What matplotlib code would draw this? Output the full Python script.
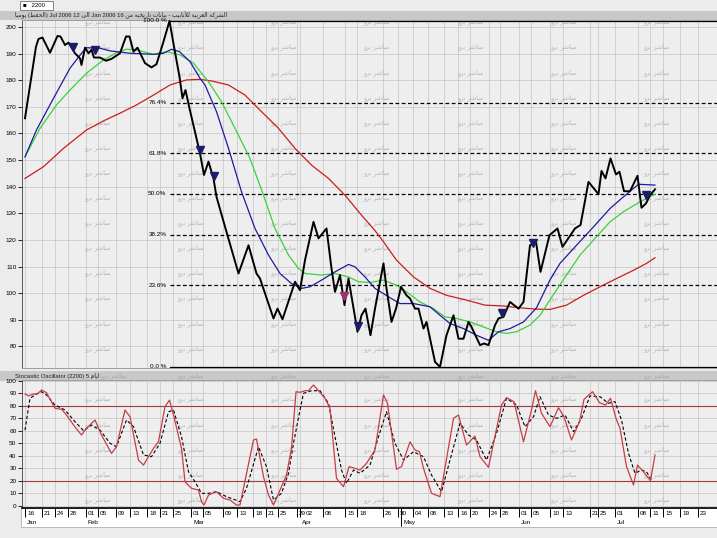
import numpy as np
import matplotlib
matplotlib.use("Agg")
import matplotlib.pyplot as plt
import matplotlib.transforms as mtransforms
from matplotlib.patches import Rectangle

plt.rcParams['font.family'] = ['Liberation Sans', 'DejaVu Sans']

# ---- price (trading-session index, close) ----
price_x = [0, 2.2, 2.7, 3.5, 5.0, 6.5, 7.1, 8.0, 8.7, 10.0, 11.0, 11.3, 12.0, 12.7, 13.3, 13.8, 15.0, 16.2, 17.3, 19.0,
           20.2, 20.9, 21.7, 22.5, 24.0, 25.3, 26.3, 27.7, 28.9, 29.8, 30.9, 31.5, 32.1, 32.9, 35.0, 35.8, 36.7, 37.7, 38.3, 40.3,
           42.7, 44.7, 46.3, 47.0, 49.7, 50.5, 51.5, 54.0, 55.0, 56.0, 57.7, 58.7, 60.3, 61.3, 62.0, 63.0, 63.9, 64.7, 66.5, 67.3,
           68.1, 69.1, 70.0, 71.7, 72.3, 73.3, 74.2, 75.2, 76.3, 77.0, 78.0, 78.7, 79.7, 80.3, 82.0, 83.0, 84.3, 85.7, 86.7, 87.7,
           88.7, 89.3, 91.0, 91.8, 92.7, 94.0, 94.7, 95.7, 97.0, 98.7, 99.7, 101.0, 102.2, 103.1, 104.9, 106.5, 107.5, 110.0, 111.1, 112.7,
           114.7, 115.3, 116.1, 117.1, 118.2, 118.9, 119.8, 121.0, 122.5, 123.3, 124.2, 125.0, 126.0]
price_y = [165.7, 192.6, 195.5, 196.0, 190.3, 196.6, 196.4, 193.2, 194.1, 190.1, 188.2, 185.7, 192.2, 190.1, 191.4, 188.5, 188.5, 187.3, 188.0, 190.1,
           196.4, 196.4, 190.7, 192.2, 186.4, 184.8, 186.0, 194.5, 202.25, 192.6, 181.3, 173.2, 176.3, 169.4, 152.5, 144.4, 149.4, 143.1, 136.2, 123.0,
           107.4, 118.0, 107.4, 105.5, 90.5, 94.2, 90.2, 104.3, 101.1, 112.4, 126.8, 120.6, 124.3, 109.3, 100.5, 106.8, 95.5, 105.5, 85.5, 91.7,
           94.2, 84.2, 94.2, 111.2, 101.8, 89.2, 94.2, 102.4, 99.2, 98.0, 94.2, 94.2, 86.7, 89.2, 74.2, 72.3, 84.2, 91.7, 82.9, 82.9,
           89.2, 87.3, 80.5, 81.1, 80.5, 88.0, 90.5, 91.1, 96.7, 94.2, 96.7, 118.0, 119.3, 108.0, 121.8, 124.3, 117.4, 124.3, 125.6, 141.8,
           137.2, 145.9, 143.1, 150.6, 144.6, 145.6, 138.3, 138.3, 144.1, 132.1, 133.7, 136.8, 139.0]

# moving averages as drawn
blue_x = [0, 2.3, 5.7, 9.0, 11.3, 12.3, 15.0, 17.0, 21.0, 25.7, 27.7, 29.3, 30.9, 33.0, 35.0, 36.0, 38.3, 40.7, 43.3, 46.0,
          48.7, 51.0, 53.3, 55.3, 57.0, 59.3, 62.0, 64.7, 66.0, 68.0, 70.0, 73.0, 75.0, 77.7, 81.0, 83.0, 85.0, 87.7, 90.3, 92.7,
          94.7, 97.0, 99.7, 102.3, 105.0, 107.0, 110.3, 113.7, 117.0, 119.7, 122.7, 126.0]
blue_y = [151.2, 161.3, 173.2, 184.5, 190.1, 192.2, 192.0, 191.0, 190.1, 189.7, 190.1, 191.6, 190.7, 187.0, 180.7, 178.2, 168.2, 154.4, 138.1, 124.3,
          114.3, 107.4, 103.6, 101.8, 102.4, 104.9, 108.0, 110.8, 109.9, 106.1, 101.8, 98.3, 96.1, 96.1, 94.9, 91.7, 88.6, 86.7, 84.2, 82.3,
          85.5, 86.7, 89.2, 94.5, 105.0, 111.2, 118.0, 124.9, 131.8, 136.2, 140.9, 140.6]
green_x = [0, 3.0, 6.3, 9.0, 12.3, 15.7, 18.3, 20.3, 22.3, 25.7, 28.3, 31.0, 33.7, 36.7, 39.3, 42.0, 45.0, 47.7, 50.0, 52.7,
           54.7, 56.0, 59.3, 62.0, 64.7, 66.7, 69.0, 71.7, 74.3, 76.3, 79.0, 81.7, 84.0, 86.3, 89.0, 91.7, 94.3, 96.3, 98.3, 101.0,
           103.0, 105.7, 108.3, 111.0, 114.3, 117.0, 119.7, 123.0, 126.0]
green_y = [151.2, 161.9, 170.7, 176.3, 182.6, 187.6, 190.3, 191.6, 191.4, 189.7, 190.7, 189.5, 186.4, 179.4, 171.9, 161.9, 150.6, 136.8, 124.3, 114.3,
           109.3, 107.4, 106.8, 107.4, 106.1, 104.3, 104.0, 104.9, 103.0, 100.5, 96.7, 94.2, 91.1, 90.5, 89.2, 87.3, 85.5, 84.9, 85.5, 88.0,
           91.7, 99.5, 106.8, 114.3, 121.2, 126.8, 130.6, 134.3, 137.2]
red_x = [0, 3.7, 7.7, 12.3, 15.7, 19.0, 22.3, 25.7, 29.0, 32.3, 35.0, 37.3, 40.7, 44.0, 47.3, 50.7, 54.0, 57.3, 60.7, 64.0,
         67.3, 70.0, 71.7, 74.3, 77.7, 81.0, 84.3, 88.3, 92.0, 95.7, 99.0, 102.3, 105.0, 108.3, 111.7, 115.0, 118.3, 121.7, 124.3, 126.0]
red_y = [143.1, 147.5, 154.4, 161.3, 164.7, 167.6, 170.7, 174.4, 178.2, 180.1, 180.3, 179.7, 178.2, 174.4, 168.2, 161.9, 154.4, 148.1, 143.1, 136.8,
         129.3, 123.5, 119.3, 112.4, 106.1, 101.8, 99.2, 97.4, 95.5, 95.2, 94.5, 94.0, 93.9, 95.5, 99.2, 102.4, 105.5, 108.6, 111.2, 113.3]

# signal arrows
sig_x = [9.5, 13.9, 34.9, 37.7, 66.5, 95.3, 101.5, 124.2]
sig_y = [192.6, 191.3, 153.8, 144.0, 87.7, 92.4, 119.0, 136.8]
sig2_x = [63.7]
sig2_y = [98.9]

# fibonacci retracement
fib_ratios = [1.0, 0.764, 0.618, 0.5, 0.382, 0.236, 0.0]
fib_labels = ['100.0 %', '76.4%', '61.8%', '50.0%', '38.2%', '23.6%', '0.0 %']

# stochastic oscillator %K and %D
k_x = [0, 0.7, 1.7, 2.5, 3.3, 4.3, 6.0, 7.3, 8.3, 9.7, 11.3, 12.3, 14.0, 15.3, 17.3, 18.3, 20.0, 21.0, 22.7, 23.7,
       25.7, 26.7, 28.0, 28.9, 29.7, 31.3, 32.0, 33.3, 34.7, 35.3, 35.8, 36.7, 38.3, 39.7, 41.0, 42.3, 43.0, 45.7, 46.3, 47.7,
       48.7, 49.7, 51.0, 52.3, 53.3, 54.2, 55.0, 56.0, 56.7, 57.7, 58.7, 60.0, 61.0, 62.3, 63.7, 64.8, 66.0, 67.0, 68.3, 70.0,
       71.7, 72.5, 74.3, 75.3, 77.0, 78.0, 78.9, 79.7, 81.3, 83.0, 85.7, 86.7, 88.3, 90.0, 91.0, 92.7, 95.3, 96.3, 97.8, 99.7,
       101.3, 102.1, 103.3, 105.0, 106.7, 107.8, 109.3, 110.9, 111.8, 113.5, 114.9, 116.1, 117.1, 118.2, 119.0, 120.3, 121.7, 122.5, 123.7, 125.1,
       126.0]
k_y = [89.6, 88.0, 89.6, 89.6, 92.8, 90.6, 78.1, 77.3, 72.7, 64.7, 56.6, 62.0, 68.7, 56.6, 41.9, 47.2, 76.7, 71.3, 36.5, 32.5,
       45.9, 51.2, 79.4, 84.7, 72.7, 45.9, 19.1, 13.8, 12.4, 3.0, 0.4, 8.4, 11.1, 5.8, 4.4, 0.4, 0.4, 52.6, 53.4, 23.1,
       8.4, 0.4, 12.4, 24.5, 45.9, 91.4, 90.9, 92.2, 92.2, 96.8, 92.2, 86.1, 78.1, 21.8, 15.1, 31.2, 29.9, 28.5, 33.9, 44.6,
       88.8, 82.1, 29.1, 31.2, 51.2, 44.6, 43.2, 29.9, 9.8, 7.1, 70.0, 72.7, 48.6, 55.8, 39.2, 30.7, 80.7, 86.6, 83.4, 51.2,
       76.7, 92.2, 74.1, 63.3, 78.6, 71.3, 52.6, 67.3, 85.3, 91.4, 82.6, 80.7, 86.1, 70.0, 62.0, 31.2, 16.5, 32.5, 27.1, 19.9,
       40.6]
d_x = [0, 1.0, 2.3, 3.3, 4.3, 6.0, 8.0, 10.0, 11.7, 13.3, 15.0, 17.0, 18.3, 20.3, 21.7, 23.7, 25.3, 27.0, 28.7, 29.7,
       31.3, 32.7, 34.0, 35.3, 36.7, 38.3, 40.3, 43.0, 44.3, 46.7, 48.3, 49.7, 51.3, 52.7, 53.7, 55.0, 55.7, 57.3, 59.0, 60.7,
       62.0, 63.3, 64.3, 65.7, 67.0, 69.0, 70.7, 72.3, 74.0, 75.7, 77.7, 79.7, 81.3, 83.3, 85.0, 87.0, 88.7, 90.3, 92.3, 94.3,
       96.3, 98.3, 100.0, 101.7, 103.0, 104.7, 106.3, 108.0, 109.7, 111.3, 113.0, 115.0, 116.7, 118.0, 119.3, 120.7, 122.0, 123.3, 124.3, 125.3]
d_y = [60.6, 86.1, 89.6, 91.4, 88.8, 80.7, 76.7, 67.3, 60.1, 64.7, 60.6, 50.0, 47.2, 68.7, 63.3, 40.6, 39.2, 50.0, 75.3, 76.7,
       55.3, 27.1, 19.1, 9.8, 9.8, 11.1, 7.1, 3.1, 13.8, 47.2, 31.2, 4.4, 9.8, 25.9, 50.0, 76.7, 90.1, 92.2, 92.2, 82.1,
       55.3, 28.5, 17.8, 28.5, 25.9, 32.5, 55.3, 75.3, 50.0, 36.5, 43.2, 39.2, 24.5, 11.1, 36.5, 66.0, 56.6, 52.6, 36.5, 58.0,
       86.1, 80.7, 63.3, 71.3, 87.4, 72.7, 70.0, 72.7, 59.3, 70.0, 88.0, 87.4, 82.1, 83.4, 68.7, 41.9, 25.9, 28.5, 27.1, 20.5]

# date axis
tick_x = [0, 3.4, 6, 8.6, 12.2, 14.6, 18.2, 21, 24.4, 27, 29.6, 33.2, 35.6, 39.6, 42.4, 45.6, 48.2, 50.6, 54.4, 55,
          59.6, 64, 66.4, 71.6, 74.6, 77.6, 80.6, 83.8, 86.6, 89, 92.8, 95, 98.8, 101.2, 105, 107.6, 113, 114.6, 118, 122.6,
          125, 127.6, 131, 134.6]
tick_lab = ['16', '21', '24', '28', '01', '05', '09', '13', '18', '21', '25', '01', '05', '09', '13', '18', '21', '25', '29', '02',
            '08', '15', '18', '26', '30', '04', '08', '13', '16', '20', '24', '28', '01', '05', '10', '13', '21', '25', '01', '08',
            '11', '15', '19', '23']
month_x = [0, 12.2, 33.2, 55, 75.2, 98.8, 118]
month_lab = ['Jan', 'Feb', 'Mar', 'Apr', 'May', 'Jun', 'Jul']


# Arabic presentation forms (iso, final, initial, medial), so text shows joined without a shaping engine
FORMS = {
    'ا': ('\uFE8D', '\uFE8E', None, None), 'أ': ('\uFE83', '\uFE84', None, None),
    'ب': ('\uFE8F', '\uFE90', '\uFE91', '\uFE92'), 'ة': ('\uFE93', '\uFE94', None, None),
    'ت': ('\uFE95', '\uFE96', '\uFE97', '\uFE98'), 'ح': ('\uFEA1', '\uFEA2', '\uFEA3', '\uFEA4'),
    'خ': ('\uFEA5', '\uFEA6', '\uFEA7', '\uFEA8'), 'ر': ('\uFEAD', '\uFEAE', None, None),
    'ش': ('\uFEB5', '\uFEB6', '\uFEB7', '\uFEB8'), 'ظ': ('\uFEC5', '\uFEC6', '\uFEC7', '\uFEC8'),
    'ع': ('\uFEC9', '\uFECA', '\uFECB', '\uFECC'), 'ف': ('\uFED1', '\uFED2', '\uFED3', '\uFED4'),
    'ك': ('\uFED9', '\uFEDA', '\uFEDB', '\uFEDC'), 'ل': ('\uFEDD', '\uFEDE', '\uFEDF', '\uFEE0'),
    'م': ('\uFEE1', '\uFEE2', '\uFEE3', '\uFEE4'), 'ن': ('\uFEE5', '\uFEE6', '\uFEE7', '\uFEE8'),
    'و': ('\uFEED', '\uFEEE', None, None), 'ى': ('\uFEEF', '\uFEF0', None, None),
    'ي': ('\uFEF1', '\uFEF2', '\uFEF3', '\uFEF4'),
    'لا': ('\uFEFB', '\uFEFC', None, None), 'لأ': ('\uFEF7', '\uFEF8', None, None),
}


def ar(text):
    toks = []
    i = 0
    while i < len(text):
        if text[i] == 'ل' and i + 1 < len(text) and text[i + 1] in 'اأ':
            toks.append(text[i:i + 2])
            i += 2
        else:
            toks.append(text[i])
            i += 1
    out = []
    for k, t in enumerate(toks):
        if t not in FORMS:
            out.append(t)
            continue
        f = FORMS[t]
        prev = toks[k - 1] if k > 0 else ' '
        nxt = toks[k + 1] if k + 1 < len(toks) else ' '
        jp = prev in FORMS and FORMS[prev][2] is not None
        jn = f[2] is not None and nxt in FORMS
        if jp and jn:
            out.append(f[3])
        elif jp:
            out.append(f[1])
        elif jn:
            out.append(f[2])
        else:
            out.append(f[0])
    return ''.join(reversed(out))


W, H = 717, 538
fig = plt.figure(figsize=(W / 100, H / 100), dpi=100, facecolor='#ececec')


def fx(px):
    return px / W


def fy(py):
    return 1 - py / H


XMIN, XMAX = -0.6, 138.4
small = 4.6

# header strips
fig.patches.append(Rectangle((0, fy(20)), 1, 9 / H, transform=fig.transFigure,
                             facecolor='#c8c8c8', edgecolor='none', zorder=-1))
fig.patches.append(Rectangle((0, fy(380.5)), 1, 9.5 / H, transform=fig.transFigure,
                             facecolor='#c8c8c8', edgecolor='none', zorder=-1))
fig.patches.append(Rectangle((fx(20), fy(9.5)), 33 / W, 8.5 / H, transform=fig.transFigure,
                             facecolor='white', edgecolor='#707070', lw=0.6, zorder=-1))
fig.patches.append(Rectangle((fx(21), fy(527)), 696 / W, 19 / H, transform=fig.transFigure,
                             facecolor='white', edgecolor='#b0b0b0', lw=0.6, zorder=-1))
fig.text(fx(23), fy(5.3), '\u25A0   2200', fontsize=4.3, va='center', ha='left')

title = (ar('يوميا') + ' (' + ar('الحفظ') + ') Jul 2006 12 ' + ar('الى') + ' Jan 2006 16 '
         + ar('الشركة العربية للأنابيب - بيانات تاريخية من'))
fig.text(fx(15), fy(15.5), title, fontsize=4.2, va='center', ha='left', color='#202020')
fig.text(fx(15), fy(376), 'Stocastic Oscillator (2200) 5 ' + ar('ايام'),
         fontsize=4.2, va='center', ha='left', color='#202020')

# ---- price panel ----
ax = fig.add_axes([fx(22), fy(368), 695 / W, 348 / H])
ax.set_facecolor('#eeeeee')
ax.set_xlim(XMIN, XMAX)
ax.set_ylim(71.9, 202.6)
ax.set_xticks(tick_x)
ax.set_xticklabels([])
ax.tick_params(axis='x', length=0)
ax.set_yticks(np.arange(80, 201, 10))
ax.tick_params(axis='y', labelsize=small, length=3, pad=1, width=0.6)
ax.grid(True, color='#c4c4c4', lw=0.5)
ax.set_axisbelow(True)
for s in ax.spines.values():
    s.set_color('#909090')
    s.set_linewidth(0.6)
ax.spines['left'].set_color('#404040')

ax.plot(red_x, red_y, color='#c81e1e', lw=0.9, zorder=3)
ax.plot(green_x, green_y, color='#3cd03c', lw=0.9, zorder=3)
ax.plot(blue_x, blue_y, color='#1c1ca0', lw=0.9, zorder=3)
ax.plot(price_x, price_y, color='black', lw=1.4, zorder=4)
ax.plot(sig_x, sig_y, 'v', color='#1c1c6c', ms=5.5, zorder=5)
ax.plot(sig2_x, sig2_y, 'v', color='#a0306e', ms=5.5, zorder=5)

hi = max(price_y)
lo = min(price_y)
x0 = price_x[int(np.argmax(price_y))]
for r, lab in zip(fib_ratios, fib_labels):
    lev = lo + r * (hi - lo)
    ls = '-' if r in (0.0, 1.0) else (0, (3, 2))
    ax.plot([x0, XMAX], [lev, lev], color='black', lw=0.9, ls=ls, zorder=2)
    ax.text(x0 - 0.6, lev, lab, ha='right', va='center', fontsize=small, zorder=6)

# ---- stochastic panel ----
sx = fig.add_axes([fx(22), fy(508), 695 / W, 128 / H])
sx.set_facecolor('#eeeeee')
sx.set_xlim(XMIN, XMAX)
sx.set_ylim(-2.0, 100.8)
sx.set_yticks(np.arange(0, 101, 10))
sx.set_xticks(tick_x)
sx.set_xticklabels([])
sx.set_xticks(month_x, minor=True)
sx.tick_params(axis='x', which='major', length=6.5, width=0.7, direction='out')
sx.tick_params(axis='x', which='minor', length=13, width=0.7, direction='out')
sx.tick_params(axis='y', labelsize=small, length=3, pad=1, width=0.6)
sx.grid(True, which='major', color='#c4c4c4', lw=0.5)
sx.set_axisbelow(True)
for s in sx.spines.values():
    s.set_color('#909090')
    s.set_linewidth(0.6)
sx.spines['left'].set_color('#404040')
sx.spines['bottom'].set_color('black')
sx.spines['bottom'].set_linewidth(1.2)

sx.axhline(80, color='#9c3c3c', lw=0.8, zorder=2)
sx.axhline(20, color='#9c3c3c', lw=0.8, zorder=2)
sx.plot(d_x, d_y, color='black', lw=0.8, ls=(0, (3, 2)), zorder=3)
sx.plot(k_x, k_y, color='#c83c46', lw=0.9, zorder=4)

base = mtransforms.blended_transform_factory(sx.transData, sx.transAxes)
mon_tr = mtransforms.offset_copy(base, fig=fig, x=2, y=-12, units='dots')
prev_lab = None
for x, lab in zip(tick_x, tick_lab):
    # the "02" of April sits right after the crowded "29" tick
    dx = 6 if (lab == '02' and prev_lab == '29') else 2
    tr = mtransforms.offset_copy(base, fig=fig, x=dx, y=-3, units='dots')
    sx.text(x, 0, lab, transform=tr, fontsize=small, ha='left', va='top')
    prev_lab = lab
for x, lab in zip(month_x, month_lab):
    sx.text(x, 0, lab, transform=mon_tr, fontsize=small, ha='left', va='top')

# watermark
wm = ar('مباشر برو')
cols = 97 + 93.3 * np.arange(7)
for j, cx in enumerate(cols):
    for ry in 22 + 25.1 * np.arange(14):
        ax.text(fx(cx), fy(ry), wm, transform=fig.transFigure, fontsize=4.6,
                color='#b4b4b4', ha='center', va='center', zorder=1, family='DejaVu Sans')
    for ry in 399 + 25.2 * np.arange(5):
        sx.text(fx(cx), fy(ry), wm, transform=fig.transFigure, fontsize=4.6,
                color='#b4b4b4', ha='center', va='center', zorder=1, family='DejaVu Sans')
    bx = cx + 16 if j == 0 else cx
    fig.text(fx(bx), fy(375.5), wm, fontsize=4.6, color='#a8a8a8', ha='center', va='center',
             family='DejaVu Sans')

fig.savefig('out.png', dpi=100, facecolor=fig.get_facecolor())
